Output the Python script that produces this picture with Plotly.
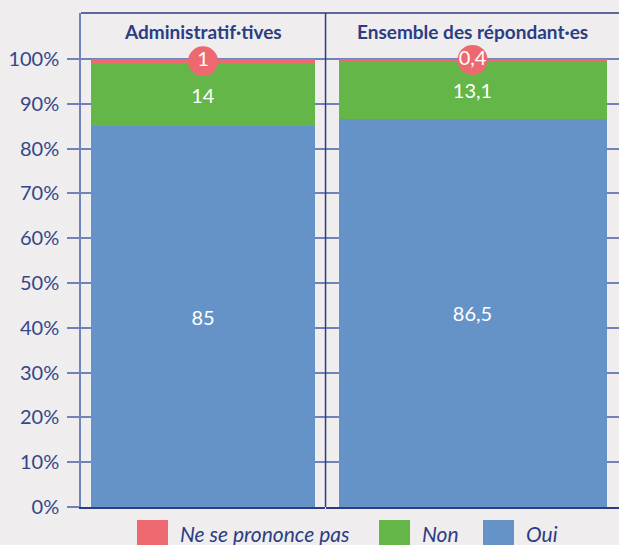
import plotly.graph_objects as go

groups = ["Administratif·tives", "Ensemble des répondant·es"]
oui = [85, 86.5]
non = [14, 13.1]
nsp = [1, 0.4]
series_names = ["Ne se prononce pas", "Non", "Oui"]
tick_vals = [0, 10, 20, 30, 40, 50, 60, 70, 80, 90, 100]
tick_text = [f"{v}%" for v in tick_vals]

RED = "#ee6870"
GREEN = "#63b647"
BLUE = "#6593c8"
NAVY = "#2b3d84"
GRID = "#6f82b9"
BG = "#efeded"
FONT = "Lato"

W, H = 619, 545
L, T, B = 81, 13, 38
pw = W - L
ph = H - T - B
split = (325 - L) / pw


def fmt(v):
    return f"{v:g}".replace(".", ",")


fig = go.Figure()
xaxes = ["x", "x2"]
for i, g in enumerate(groups):
    xa = xaxes[i]
    fig.add_trace(go.Bar(x=[g], y=[oui[i]], marker_color=BLUE, name=series_names[2],
                         text=[fmt(oui[i])], textposition="inside", insidetextanchor="middle",
                         textfont=dict(color="white", size=20, family=FONT),
                         xaxis=xa, yaxis="y", showlegend=False, marker_line_width=0))
    fig.add_trace(go.Bar(x=[g], y=[non[i]], marker_color=GREEN, name=series_names[1],
                         text=[fmt(non[i])], textposition="inside", insidetextanchor="middle",
                         textfont=dict(color="white", size=20, family=FONT),
                         xaxis=xa, yaxis="y", showlegend=False, marker_line_width=0))
    fig.add_trace(go.Bar(x=[g], y=[nsp[i]], marker_color=RED, name=series_names[0],
                         textposition="none",
                         xaxis=xa, yaxis="y", showlegend=False, marker_line_width=0))
    fig.add_trace(go.Scatter(x=[g], y=[oui[i] + non[i] + nsp[i] / 2], mode="markers+text",
                             marker=dict(size=30, color=RED), text=[fmt(nsp[i])],
                             textposition="middle center",
                             textfont=dict(color="white", size=20, family=FONT),
                             xaxis=xa, yaxis="y", showlegend=False, cliponaxis=False))

ymax = 100 * ph / (507 - 59)

fig.update_layout(
    width=W, height=H,
    margin=dict(l=L, r=0, t=T, b=B),
    paper_bgcolor=BG, plot_bgcolor=BG,
    barmode="stack", bargap=0.085,
    font=dict(family=FONT, color=NAVY),
    xaxis=dict(domain=[0, split], showticklabels=False, ticks="", showgrid=False,
               showline=True, linecolor=NAVY, linewidth=2, zeroline=False),
    xaxis2=dict(domain=[split + 0.002, 1], showticklabels=False, ticks="", showgrid=False,
                showline=True, linecolor=NAVY, linewidth=2, zeroline=False),
    yaxis=dict(range=[0, ymax], tickvals=tick_vals, ticktext=tick_text,
               showgrid=True, gridcolor=GRID, gridwidth=1.5, zeroline=False,
               showline=True, linecolor=GRID, linewidth=1.5,
               ticks="outside", ticklen=12, tickcolor=GRID, tickwidth=1.5,
               tickfont=dict(size=20, color="#34478a", family=FONT), ticklabelstandoff=4),
    showlegend=False,
)

shapes = [
    dict(type="line", xref="paper", yref="paper", x0=0, x1=1, y0=1, y1=1,
         line=dict(color=NAVY, width=1.5)),
    dict(type="line", xref="paper", yref="paper", x0=split + 0.001, x1=split + 0.001, y0=0, y1=1,
         line=dict(color=NAVY, width=1.5)),
]
annotations = []
centers = [split / 2, (split + 1) / 2]
title_y = (H - B - 32) / ph
for c, g in zip(centers, groups):
    annotations.append(dict(x=c, y=title_y, xref="paper", yref="paper", text=f"<b>{g}</b>",
                            showarrow=False, font=dict(size=19, color=NAVY, family=FONT),
                            xanchor="center", yanchor="middle"))


def px_x(p):
    return (p - L) / pw


def px_y(p):
    return (H - B - p) / ph


legend_items = [(series_names[0], RED, 137), (series_names[1], GREEN, 379), (series_names[2], BLUE, 483)]
for name, col, x0 in legend_items:
    shapes.append(dict(type="rect", xref="paper", yref="paper",
                       x0=px_x(x0), x1=px_x(x0 + 31), y0=px_y(520), y1=px_y(551),
                       fillcolor=col, line=dict(width=0), layer="above"))
    annotations.append(dict(x=px_x(x0 + 41), y=px_y(533), xref="paper", yref="paper",
                            text=f"<i>{name}</i>", showarrow=False, xanchor="left", yanchor="middle",
                            font=dict(size=21, color=NAVY, family=FONT)))

fig.update_layout(shapes=shapes, annotations=annotations)
fig.write_html("out.html",
               config={"displayModeBar": False},
               post_script="document.body.style.margin='0';document.body.style.overflow='hidden';")
